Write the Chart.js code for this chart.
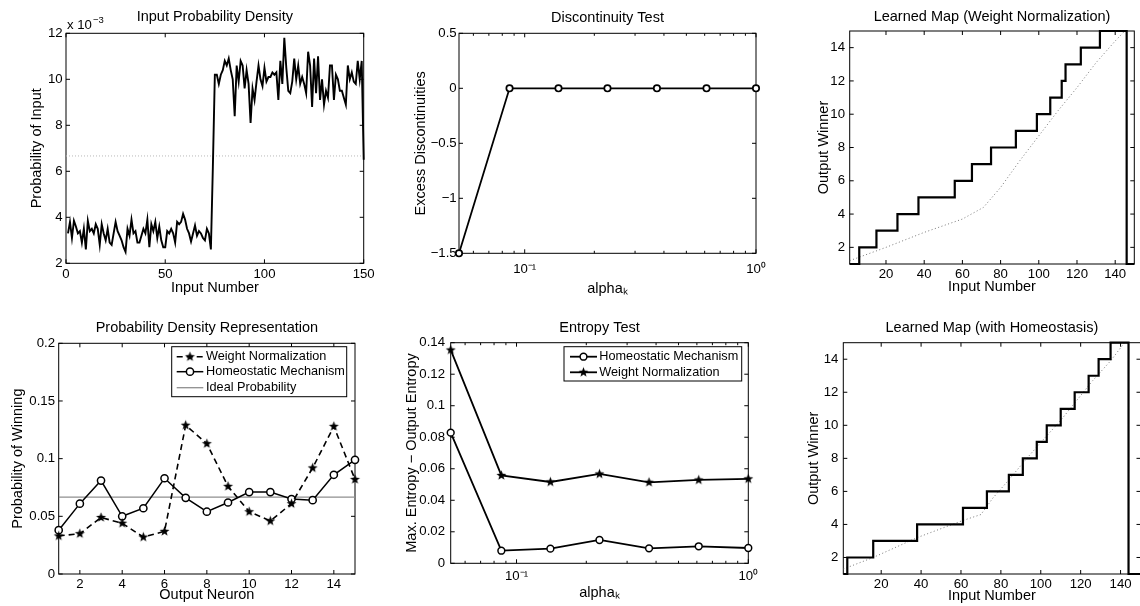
<!DOCTYPE html>
<html><head><meta charset="utf-8">
<script src="https://cdn.jsdelivr.net/npm/chart.js@4.4.1/dist/chart.umd.min.js"></script>
<style>
html,body{margin:0;padding:0;background:#fff;width:1140px;height:606px;overflow:hidden;position:relative}
.p{position:absolute}
.p canvas{display:block}
</style></head><body>
<div class="p" id="w1"><canvas id="c1"></canvas></div>
<div class="p" id="w2"><canvas id="c2"></canvas></div>
<div class="p" id="w3"><canvas id="c3"></canvas></div>
<div class="p" id="w4"><canvas id="c4"></canvas></div>
<div class="p" id="w5"><canvas id="c5"></canvas></div>
<div class="p" id="w6"><canvas id="c6"></canvas></div>
<script>
// ---------------- DATA ----------------
// Panel 1: Input Probability Density (values in units of 10^-3)
const inputNumbers = Array.from({length:150}, (_, i) => i + 1);
const inputDensity = [
 3.3,3.8,3.1,3.85,3.6,3.3,3.4,2.9,3.5,2.6, 3.85,3.4,3.5,3.3,3.7,3.5,2.8,3.7,3.3,3.0,
 3.5,2.9,2.8,3.3,3.8,3.4,3.2,3.0,2.7,2.5, 3.5,3.2,3.9,3.3,3.4,2.9,2.9,3.2,3.5,3.3,
 3.9,2.7,3.7,3.4,3.8,3.1,3.6,3.0,2.7,2.7, 3.4,3.3,3.5,3.3,2.9,3.8,3.7,3.8,4.15,3.9,
 3.5,3.3,2.95,3.3,3.65,3.2,3.4,3.3,3.1,3.0, 3.5,3.3,2.6,6.2,10.2,10.2,9.8,10.2,10.4,10.8,
 10.6,10.9,10.4,10.0,8.4,10.6,9.9,10.8,10.6,9.6, 10.4,9.8,8.1,9.6,9.1,9.9,10.6,10.0,9.7,10.5,
 9.9,10.1,10.1,10.3,10.2,10.3,9.1,10.8,9.8,11.8, 10.5,9.5,9.4,9.9,10.9,10.0,10.6,9.8,10.1,9.8,
 9.4,11.2,10.6,8.8,10.9,9.4,11.0,9.1,10.0,8.9, 9.5,9.2,10.6,10.6,9.1,10.2,10.0,9.5,9.5,9.2,
 8.9,10.6,10.0,10.3,9.9,9.8,10.8,10.0,10.8,6.5];
const uniformX = [0, 150];
const uniformLevel = [6.667, 6.667];
const p1XTicks = [0, 50, 100, 150];
const p1YTicks = [2, 4, 6, 8, 10, 12];

// Panels 2 & 5: alpha_k values
const alphaK = [0.052, 0.086, 0.14, 0.228, 0.373, 0.611, 1];
const excessDisc = [-1.5, 0, 0, 0, 0, 0, 0];
const entropyHM = [0.0829, 0.0080, 0.0093, 0.0148, 0.0095, 0.0108, 0.0097];
const entropyWN = [0.1354, 0.0558, 0.0516, 0.0567, 0.0514, 0.0529, 0.0536];
const logTickVals = [0.1, 1];
const logTickLabels = ['10\u207B\u00B9', '10\u2070'];
const logMinorTicks = [0.06,0.07,0.08,0.09,0.2,0.3,0.4,0.5,0.6,0.7,0.8,0.9];
const p2YTicks = [-1.5, -1, -0.5, 0, 0.5];
const p5YTicks = [0, 0.02, 0.04, 0.06, 0.08, 0.1, 0.12, 0.14];

// Panel 4: Probability Density Representation
const neurons = [1,2,3,4,5,6,7,8,9,10,11,12,13,14,15];
const probWN = [0.033,0.035,0.049,0.044,0.032,0.037,0.129,0.113,0.076,0.054,0.046,0.061,0.092,0.128,0.082];
const probHM = [0.038,0.061,0.081,0.050,0.057,0.083,0.066,0.054,0.062,0.071,0.071,0.065,0.064,0.086,0.099];
const idealX = [1, 15];
const idealProb = [0.0667, 0.0667];
const p4XTicks = [2,4,6,8,10,12,14];
const p4YTicks = [0, 0.05, 0.1, 0.15, 0.2];

// Panel 3: Learned map (weight normalization) - step start inputs and winners
const wnStepX = [1, 6, 15, 26, 37, 56, 65, 75, 88, 99, 106, 112, 114, 122, 132, 146, 150];
const wnWinner = [1, 2, 3, 4, 5, 6, 7, 8, 9, 10, 11, 12, 13, 14, 15, 1, 1];
const wnIdealX = [1, 20, 40, 60, 71, 80, 90, 100, 110, 120, 130, 140, 145, 146];
const wnIdealY = [1.2, 2.0, 2.9, 3.7, 4.4, 5.6, 7.2, 8.7, 10.2, 11.6, 13.1, 14.4, 15, 15];
// Panel 6: Learned map (with homeostasis)
const hmStepX = [1, 3, 16, 38, 61, 73, 84, 91, 98, 103, 110, 117, 124, 129, 135, 144, 150];
const hmWinner = [1, 2, 3, 4, 5, 6, 7, 8, 9, 10, 11, 12, 13, 14, 15, 1, 1];
const hmIdealX = [1, 16, 38, 60, 70, 76, 84, 93, 101, 110, 118, 126, 135, 142, 144];
const hmIdealY = [1.3, 2.0, 3.2, 4.2, 4.6, 5.6, 6.7, 8.0, 9.1, 10.3, 11.5, 12.7, 13.9, 15, 15];
const mapXTicks = [20, 40, 60, 80, 100, 120, 140];
const mapYTicks = [2, 4, 6, 8, 10, 12, 14];

// ---------------- STYLE / HELPERS ----------------
const FONT = "'Liberation Sans', Arial, Helvetica, sans-serif";
const TICK = 13.2, LAB = 14.5, TIT = 14.5, LEG = 12.7;
const numLabel = v => (v < 0 ? '\u2212' + Math.abs(v) : String(v));

function makeStar(R) {
  const c = document.createElement('canvas');
  const s = Math.ceil(R * 2 + 2); c.width = s; c.height = s;
  const g = c.getContext('2d'); g.fillStyle = '#000'; g.beginPath();
  for (let k = 0; k < 10; k++) {
    const r = k % 2 ? R * 0.42 : R; const a = -Math.PI / 2 + k * Math.PI / 5;
    const px = s / 2 + r * Math.cos(a), py = s / 2 + r * Math.sin(a);
    if (k) g.lineTo(px, py); else g.moveTo(px, py);
  }
  g.closePath(); g.fill();
  return c;
}
const STAR = makeStar(5.2);

const frame = {
  id: 'frame',
  beforeDatasetsDraw(chart, args, o) {
    const {ctx, chartArea: a, scales: {x, y}} = chart;
    ctx.save();
    ctx.strokeStyle = '#000'; ctx.lineWidth = 1;
    ctx.strokeRect(a.left, a.top, a.right - a.left, a.bottom - a.top);
    ctx.beginPath();
    const L = 4, L2 = 2.5;
    x.ticks.forEach(t => { const p = x.getPixelForValue(t.value);
      ctx.moveTo(p, a.bottom); ctx.lineTo(p, a.bottom - L); ctx.moveTo(p, a.top); ctx.lineTo(p, a.top + L); });
    (o.xMinor || []).forEach(v => { const p = x.getPixelForValue(v);
      ctx.moveTo(p, a.bottom); ctx.lineTo(p, a.bottom - L2); ctx.moveTo(p, a.top); ctx.lineTo(p, a.top + L2); });
    y.ticks.forEach(t => { const p = y.getPixelForValue(t.value);
      ctx.moveTo(a.left, p); ctx.lineTo(a.left + L, p); ctx.moveTo(a.right, p); ctx.lineTo(a.right - L, p); });
    ctx.stroke();
    if (o.exponent) {
      ctx.fillStyle = '#000'; ctx.textBaseline = 'middle'; ctx.textAlign = 'left';
      ctx.font = TICK + 'px ' + FONT;
      ctx.fillText(o.exponent[0], a.left + 1, a.top - 8);
      const w = ctx.measureText(o.exponent[0]).width;
      ctx.font = '9.5px ' + FONT;
      ctx.fillText(o.exponent[1], a.left + 1 + w + 1, a.top - 13);
    }
    ctx.restore();
  }
};

const boxLegend = {
  id: 'boxLegend',
  afterDraw(chart, args, o) {
    if (!o || !o.items) return;
    const {ctx, chartArea: a} = chart;
    const x0 = a.left + o.dx, y0 = a.top + o.dy;
    ctx.save();
    ctx.fillStyle = '#fff'; ctx.fillRect(x0, y0, o.w, o.h);
    ctx.strokeStyle = '#000'; ctx.lineWidth = 1; ctx.strokeRect(x0, y0, o.w, o.h);
    o.items.forEach((di, k) => {
      const ds = chart.data.datasets[di];
      const yy = y0 + o.rows[k];
      ctx.setLineDash(ds.borderDash || []);
      ctx.strokeStyle = ds.borderColor; ctx.lineWidth = ds.borderWidth;
      ctx.beginPath(); ctx.moveTo(x0 + o.s0, yy); ctx.lineTo(x0 + o.s1, yy); ctx.stroke();
      ctx.setLineDash([]);
      if (ds.pointRadius > 0) {
        ctx.fillStyle = ds.pointBackgroundColor || '#fff';
        ctx.strokeStyle = ds.pointBorderColor || '#000';
        ctx.lineWidth = ds.pointBorderWidth || 1;
        Chart.helpers.drawPoint(ctx, {pointStyle: ds.pointStyle, radius: ds.pointRadius, borderWidth: ds.pointBorderWidth || 1, rotation: 0}, x0 + (o.s0 + o.s1) / 2, yy);
      }
      ctx.fillStyle = '#000'; ctx.font = LEG + 'px ' + FONT; ctx.textBaseline = 'middle'; ctx.textAlign = 'left';
      ctx.fillText(ds.label, x0 + o.tx, yy);
    });
    ctx.restore();
  }
};

function panel(n, g, data, xs, ys, plugOpts) {
  const cx = Math.max(0, Math.round(g.l - 66));
  const cy = Math.round(g.t - 28);
  const cw = Math.ceil(g.r + 26 - cx);
  const ch = Math.ceil(g.xLabelY + 11 - cy);
  const w = document.getElementById('w' + n);
  w.style.left = cx + 'px'; w.style.top = cy + 'px'; w.style.width = cw + 'px'; w.style.height = ch + 'px';
  const yW = g.l - cx, xH = cy + ch - g.b, padR = cx + cw - g.r, titleH = g.t - cy;
  const tTop = g.titleY - cy - TIT * 0.6;
  const tickFont = {size: TICK, family: FONT};
  const labFont = {size: LAB, family: FONT};
  function axis(s, isX) {
    const o = {
      type: s.type || 'linear', min: s.min, max: s.max, bounds: 'data',
      afterBuildTicks: sc => { sc.ticks = s.ticks.map(v => ({value: v})); },
      grid: {display: false, drawTicks: false}, border: {display: false},
      ticks: {font: tickFont, color: '#000', autoSkip: false, maxRotation: 0, minRotation: 0,
        callback: s.labels ? (v => { const i = s.ticks.indexOf(v); return i >= 0 ? s.labels[i] : ''; }) : numLabel},
      title: {display: true, text: s.title, font: labFont, color: '#000'}
    };
    if (isX) {
      o.afterFit = sc => { sc.height = xH; };
      o.ticks.padding = g.xTickY - g.b - TICK * 0.6;
      o.title.padding = {top: 0, bottom: cy + ch - g.xLabelY - LAB * 0.6};
    } else {
      o.afterFit = sc => { sc.width = yW; };
      o.ticks.padding = g.l - g.yTickR;
      o.title.padding = {top: g.yLabelX - cx - LAB * 0.6, bottom: 0};
    }
    return o;
  }
  return new Chart(document.getElementById('c' + n), {
    type: 'line',
    data: data,
    options: {
      responsive: true, maintainAspectRatio: false, animation: false, devicePixelRatio: 1,
      layout: {padding: {left: 0, top: 0, right: padR, bottom: 0}},
      scales: {x: axis(xs, true), y: axis(ys, false)},
      plugins: {
        legend: {display: false}, tooltip: {enabled: false},
        title: {display: true, text: g.title, fullSize: false, color: '#000',
          font: {size: TIT, family: FONT, weight: 'normal'},
          padding: {top: tTop, bottom: titleH - tTop - TIT * 1.2}},
        frame: plugOpts.frame || {},
        boxLegend: plugOpts.legend || {}
      }
    },
    plugins: [frame, boxLegend]
  });
}

const circ = (r, bw) => ({pointStyle: 'circle', pointRadius: r, pointBorderWidth: bw, pointBackgroundColor: '#fff', pointBorderColor: '#000'});
const star = () => ({pointStyle: STAR, pointRadius: 5, pointBorderWidth: 0, pointBackgroundColor: '#000', pointBorderColor: '#000'});
const pts = (xa, ya) => xa.map((x, i) => ({x: x, y: ya[i]}));

// Panel 1
panel(1, {l:66, t:33.3, r:363.7, b:263.3, titleY:17.3, xTickY:274.3, xLabelY:288.3, yTickR:62.7, yLabelX:37.3,
  title: 'Input Probability Density'},
  {labels: inputNumbers, datasets: [
    {data: inputDensity, borderColor: '#000', borderWidth: 1.9, pointRadius: 0, clip: false},
    {data: pts(uniformX, uniformLevel), borderColor: '#b8b8b8', borderWidth: 1, borderDash: [1, 2], pointRadius: 0}
  ]},
  {min: 0, max: 150, ticks: p1XTicks, title: 'Input Number'},
  {min: 2, max: 12, ticks: p1YTicks, title: 'Probability of Input'},
  {frame: {exponent: ['x 10', '\u22123']}});

// Panel 2
panel(2, {l:459, t:33.3, r:756, b:253.3, titleY:18.3, xTickY:269.3, xLabelY:289.3, yTickR:456.7, yLabelX:420.7,
  title: 'Discontinuity Test'},
  {labels: alphaK, datasets: [
    Object.assign({data: excessDisc, borderColor: '#000', borderWidth: 1.8, clip: false}, circ(3.2, 1.7))
  ]},
  {type: 'logarithmic', min: 0.052, max: 1, ticks: logTickVals, labels: logTickLabels, title: 'alpha\u2096'},
  {min: -1.5, max: 0.5, ticks: p2YTicks, title: 'Excess Discontinuities'},
  {frame: {xMinor: logMinorTicks}});

// Panel 3
panel(3, {l:849.7, t:31, r:1134.3, b:264, titleY:17.3, xTickY:274, xLabelY:286.7, yTickR:845, yLabelX:824.3,
  title: 'Learned Map (Weight Normalization)'},
  {datasets: [
    {data: pts(wnStepX, wnWinner), stepped: true, borderColor: '#000', borderWidth: 2.2, pointRadius: 0, clip: false},
    {data: pts(wnIdealX, wnIdealY), borderColor: '#777', borderWidth: 1, borderDash: [1, 2.5], pointRadius: 0}
  ]},
  {min: 1, max: 150, ticks: mapXTicks, title: 'Input Number'},
  {min: 1, max: 15, ticks: mapYTicks, title: 'Output Winner'},
  {});

// Panel 4
panel(4, {l:58.7, t:343.3, r:355, b:574, titleY:328.3, xTickY:584, xLabelY:595, yTickR:55, yLabelX:18.3,
  title: 'Probability Density Representation'},
  {labels: neurons, datasets: [
    Object.assign({label: 'Weight Normalization', data: probWN, borderColor: '#000', borderWidth: 1.6, borderDash: [6, 4], clip: false}, star()),
    Object.assign({label: 'Homeostatic Mechanism', data: probHM, borderColor: '#000', borderWidth: 1.5, clip: false}, circ(3.6, 1.5)),
    {label: 'Ideal Probability', data: pts(idealX, idealProb), borderColor: '#8f8f8f', borderWidth: 1.3, pointRadius: 0}
  ]},
  {min: 1, max: 15, ticks: p4XTicks, title: 'Output Neuron'},
  {min: 0, max: 0.2, ticks: p4YTicks, title: 'Probability of Winning'},
  {legend: {items: [0, 1, 2], dx: 113, dy: 3.4, w: 175, h: 50, rows: [10, 25, 41], s0: 5, s1: 31.6, tx: 34.3}});

// Panel 5
panel(5, {l:450.7, t:342.7, r:748.3, b:563.3, titleY:327.7, xTickY:576.7, xLabelY:592.7, yTickR:445, yLabelX:411.7,
  title: 'Entropy Test'},
  {labels: alphaK, datasets: [
    Object.assign({label: 'Homeostatic Mechanism', data: entropyHM, borderColor: '#000', borderWidth: 1.8, clip: false}, circ(3.4, 1.5)),
    Object.assign({label: 'Weight Normalization', data: entropyWN, borderColor: '#000', borderWidth: 1.8, clip: false}, star())
  ]},
  {type: 'logarithmic', min: 0.052, max: 1, ticks: logTickVals, labels: logTickLabels, title: 'alpha\u2096'},
  {min: 0, max: 0.14, ticks: p5YTicks, title: 'Max. Entropy \u2212 Output Entropy'},
  {frame: {xMinor: logMinorTicks},
   legend: {items: [0, 1], dx: 113.3, dy: 4, w: 177.7, h: 34.3, rows: [10, 25.6], s0: 6, s1: 33, tx: 35.3}});

// Panel 6
panel(6, {l:843.3, t:342.7, r:1140.5, b:574, titleY:327.7, xTickY:584.3, xLabelY:596, yTickR:838.3, yLabelX:814,
  title: 'Learned Map (with Homeostasis)'},
  {datasets: [
    {data: pts(hmStepX, hmWinner), stepped: true, borderColor: '#000', borderWidth: 2.2, pointRadius: 0, clip: false},
    {data: pts(hmIdealX, hmIdealY), borderColor: '#777', borderWidth: 1, borderDash: [1, 2.5], pointRadius: 0}
  ]},
  {min: 1, max: 150, ticks: mapXTicks, title: 'Input Number'},
  {min: 1, max: 15, ticks: mapYTicks, title: 'Output Winner'},
  {});
</script>
</body></html>
